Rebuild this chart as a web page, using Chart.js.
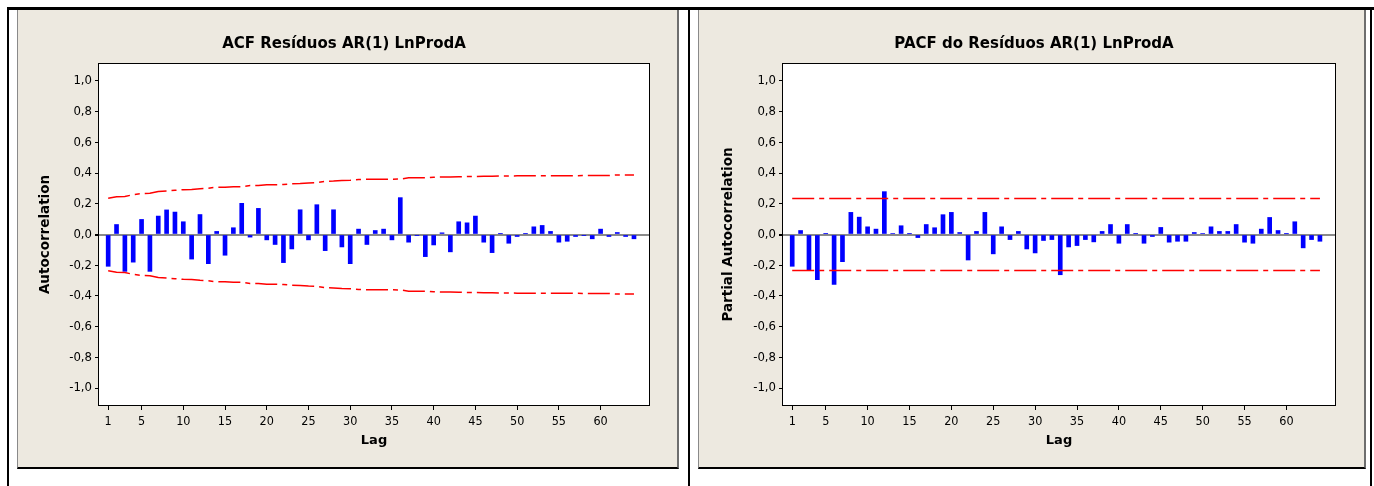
<!DOCTYPE html>
<html>
<head>
<meta charset="utf-8">
<script src="https://cdn.jsdelivr.net/npm/chart.js@4.4.1/dist/chart.umd.min.js"></script>
<style>
  body { margin: 0; background: #fff; width: 1374px; height: 486px; position: relative; overflow: hidden; }
  .rule { position: absolute; background: #000; }
  .panel { position: absolute; box-sizing: border-box; background: #EDE9E0;
           border-left: 1px solid #8a8a8a; border-right: 2px solid #6e6e6e; border-bottom: 2px solid #000; }
  canvas { position: absolute; }
</style>
</head>
<body>
<div class="rule" style="left:7px;top:7px;width:1367px;height:3px"></div>
<div class="rule" style="left:7px;top:7px;width:2px;height:479px"></div>
<div class="rule" style="left:688px;top:7px;width:2px;height:479px"></div>
<div class="rule" style="left:1370px;top:7px;width:2px;height:479px"></div>

<div class="panel" style="left:17px;top:10px;width:662px;height:459px"></div>
<div class="panel" style="left:698px;top:10px;width:668px;height:459px"></div>

<canvas id="acfChart" width="662" height="459" style="left:17px;top:10px"></canvas>
<canvas id="pacfChart" width="668" height="459" style="left:698px;top:10px"></canvas>

<script>
var lags = [1, 2, 3, 4, 5, 6, 7, 8, 9, 10, 11, 12, 13, 14, 15, 16, 17, 18, 19, 20,
  21, 22, 23, 24, 25, 26, 27, 28, 29, 30, 31, 32, 33, 34, 35, 36, 37, 38, 39, 40,
  41, 42, 43, 44, 45, 46, 47, 48, 49, 50, 51, 52, 53, 54, 55, 56, 57, 58, 59, 60,
  61, 62, 63, 64];

var acfValues = [
  -0.207, 0.065, -0.240, -0.180, 0.098, -0.240, 0.120, 0.160, 0.146, 0.083,
  -0.160, 0.130, -0.190, 0.020, -0.135, 0.044, 0.203, -0.017, 0.170, -0.035,
  -0.065, -0.183, -0.094, 0.161, -0.035, 0.194, -0.105, 0.161, -0.081, -0.190,
  0.035, -0.065, 0.026, 0.035, -0.035, 0.240, -0.050, -0.005, -0.144, -0.068,
  0.011, -0.113, 0.083, 0.076, 0.120, -0.050, -0.118, 0.005, -0.057, -0.013,
  0.005, 0.050, 0.059, 0.020, -0.050, -0.044, -0.013, -0.005, -0.028, 0.035,
  -0.013, 0.013, -0.013, -0.028];

// upper 5% limit of the ACF, read lag by lag (lower limit is the mirror)
var acfLimit = [
  0.236, 0.246, 0.247, 0.260, 0.266, 0.268, 0.280, 0.283, 0.288, 0.292,
  0.293, 0.298, 0.301, 0.308, 0.308, 0.311, 0.311, 0.319, 0.319, 0.324,
  0.324, 0.325, 0.330, 0.332, 0.336, 0.337, 0.346, 0.348, 0.352, 0.353,
  0.358, 0.359, 0.359, 0.360, 0.360, 0.361, 0.369, 0.370, 0.370, 0.373,
  0.374, 0.374, 0.376, 0.377, 0.378, 0.379, 0.379, 0.381, 0.381, 0.382,
  0.382, 0.382, 0.382, 0.383, 0.383, 0.383, 0.383, 0.384, 0.384, 0.384,
  0.384, 0.388, 0.388, 0.388];

var pacfValues = [
  -0.207, 0.026, -0.229, -0.294, 0.005, -0.325, -0.177, 0.144, 0.113, 0.050,
  0.035, 0.279, 0.007, 0.057, 0.005, -0.020, 0.065, 0.044, 0.129, 0.144,
  0.013, -0.166, 0.020, 0.144, -0.126, 0.050, -0.033, 0.020, -0.094, -0.120,
  -0.039, -0.033, -0.262, -0.081, -0.072, -0.033, -0.048, 0.020, 0.065, -0.057,
  0.065, 0.005, -0.057, -0.013, 0.046, -0.050, -0.044, -0.044, 0.013, 0.006,
  0.050, 0.020, 0.020, 0.065, -0.050, -0.057, 0.035, 0.111, 0.026, 0.005,
  0.083, -0.087, -0.033, -0.044];

var pacfLimitLags = [1, 64];
var pacfLimit = [0.235, 0.235];

var xTicks = [1, 5, 10, 15, 20, 25, 30, 35, 40, 45, 50, 55, 60];
var yTicks = [-1.0, -0.8, -0.6, -0.4, -0.2, 0.0, 0.2, 0.4, 0.6, 0.8, 1.0];

var titleFont = "'DejaVu Sans', Verdana, sans-serif";
var tickFont = "'DejaVu Sans Condensed', 'DejaVu Sans', sans-serif";

function points(xs, ys, sign) {
  return xs.map(function (x, i) { return {x: x, y: sign * ys[i]}; });
}

// white plot area + black frame, like the Minitab graph window
var plotFrame = {
  id: 'plotFrame',
  beforeDraw: function (chart) {
    var a = chart.chartArea, ctx = chart.ctx;
    ctx.save();
    ctx.fillStyle = '#fff';
    ctx.fillRect(a.left, a.top, a.right - a.left, a.bottom - a.top);
    ctx.restore();
  },
  afterDraw: function (chart) {
    var a = chart.chartArea, ctx = chart.ctx;
    ctx.save();
    ctx.strokeStyle = '#000';
    ctx.lineWidth = 1;
    ctx.strokeRect(a.left - 0.5, a.top - 0.5, a.right - a.left + 1, a.bottom - a.top + 1);
    ctx.restore();
  }
};

function limitLine(data) {
  return {
    type: 'line',
    data: data,
    borderColor: 'rgb(255,0,0)',
    borderWidth: 1.5,
    borderDash: [22, 5, 5, 5],
    pointRadius: 0,
    fill: false,
    tension: 0,
    order: 1
  };
}

// padLeft moves the title centre; yWidth + padLeft = left edge of the plot
function drawCorrChart(id, title, yTitle, values, limitX, limit, padLeft, yWidth, padRight, yTitlePad) {
  return new Chart(document.getElementById(id), {
    type: 'bar',
    data: {
      datasets: [
        {
          type: 'bar',
          data: points(lags, values, 1),
          backgroundColor: '#0000FF',
          barThickness: 4,
          order: 2
        },
        limitLine(points(limitX, limit, 1)),
        limitLine(points(limitX, limit, -1))
      ]
    },
    options: {
      responsive: false,
      animation: false,
      layout: { padding: { top: 0, right: padRight, bottom: 0, left: padLeft } },
      plugins: {
        legend: { display: false },
        tooltip: { enabled: false },
        title: {
          display: true,
          text: title,
          color: '#000',
          font: { family: titleFont, size: 15, weight: 'bold' },
          padding: { top: 25, bottom: 11 }
        }
      },
      scales: {
        x: {
          type: 'linear',
          min: -0.1,
          max: 65.8,
          offset: false,
          border: { display: false },
          grid: { offset: false, drawOnChartArea: false, drawTicks: true, tickLength: 5, tickColor: '#000', color: '#000' },
          ticks: { color: '#000', font: { family: tickFont, size: 12.5 }, padding: 4, maxRotation: 0, autoSkip: false },
          afterBuildTicks: function (scale) {
            scale.ticks = xTicks.map(function (v) { return {value: v}; });
          },
          afterFit: function (scale) { scale.height = 64; },
          title: {
            display: true,
            text: 'Lag',
            color: '#000',
            font: { family: titleFont, size: 13, weight: 'bold' },
            padding: { top: 0, bottom: 21 }
          }
        },
        y: {
          type: 'linear',
          min: -1.11,
          max: 1.11,
          border: { display: false },
          grid: {
            drawTicks: true,
            tickLength: 4,
            tickColor: '#000',
            color: function (c) { return c.tick && c.tick.value === 0 ? '#8a8a8a' : 'rgba(0,0,0,0)'; },
            lineWidth: function (c) { return c.tick && c.tick.value === 0 ? 2 : 1; }
          },
          ticks: {
            color: '#000',
            font: { family: tickFont, size: 13 },
            padding: 3,
            callback: function (v) { return v.toFixed(1).replace('.', ','); }
          },
          afterBuildTicks: function (scale) {
            scale.ticks = yTicks.map(function (v) { return {value: v}; });
          },
          afterFit: function (scale) { scale.width = yWidth; },
          title: {
            display: true,
            text: yTitle,
            color: '#000',
            font: { family: titleFont, size: 13.5, weight: 'bold' },
            padding: { top: yTitlePad, bottom: 0 }
          }
        }
      }
    },
    plugins: [plotFrame]
  });
}

drawCorrChart('acfChart', 'ACF Resíduos AR(1) LnProdA', 'Autocorrelation',
  acfValues, lags, acfLimit, 22, 60, 30, -2);
drawCorrChart('pacfChart', 'PACF do Resíduos AR(1) LnProdA', 'Partial Autocorrelation',
  pacfValues, pacfLimitLags, pacfLimit, 35, 50, 31, -13);
</script>
</body>
</html>
